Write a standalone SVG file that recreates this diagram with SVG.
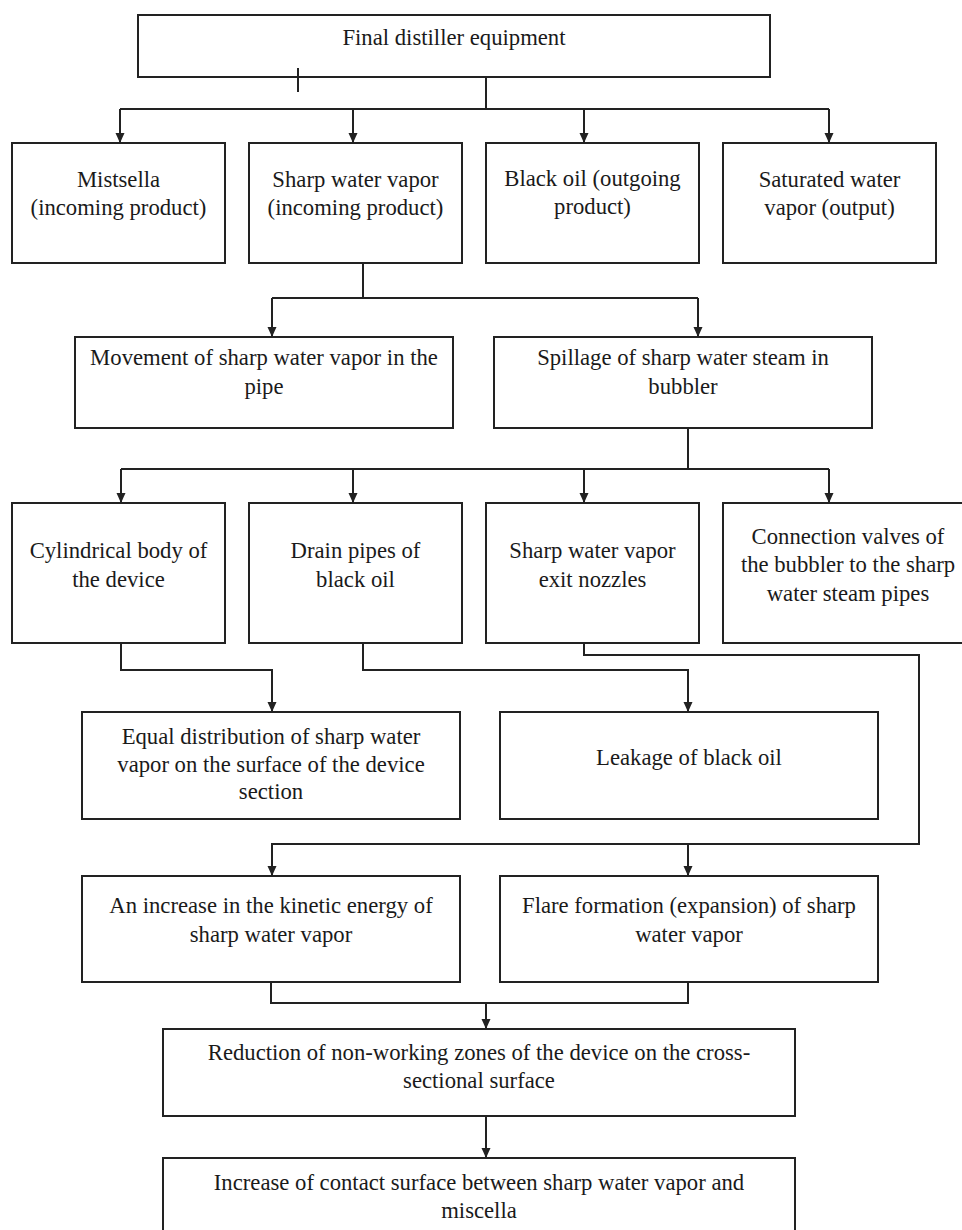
<svg xmlns="http://www.w3.org/2000/svg" width="962" height="1230" viewBox="0 0 962 1230">
<style>
rect.box{fill:#fff;stroke:#222;stroke-width:2}
text{font-family:'Liberation Serif','DejaVu Serif',serif;font-size:22.7px;fill:#1a1a1a;text-anchor:middle}
.c path{fill:none;stroke:#222;stroke-width:2}
</style>
<defs>
<marker id="ah" markerWidth="10" markerHeight="10" refX="10" refY="5" orient="auto" markerUnits="userSpaceOnUse"><path d="M0,0.5 L10,5 L0,9.5 z" fill="#222"/></marker>
</defs>
<rect width="962" height="1230" fill="#fff"/>
<g id="n0"><rect class="box" x="138" y="15" width="632" height="62"/><text x="454" y="45">Final distiller equipment</text></g>
<g id="n1"><rect class="box" x="12" y="143" width="213" height="120"/><text x="118.5" y="187">Mistsella</text><text x="118.5" y="215">(incoming product)</text></g>
<g id="n2"><rect class="box" x="249" y="143" width="213" height="120"/><text x="355.5" y="187">Sharp water vapor</text><text x="355.5" y="215">(incoming product)</text></g>
<g id="n3"><rect class="box" x="486" y="143" width="213" height="120"/><text x="592.5" y="186">Black oil (outgoing</text><text x="592.5" y="214">product)</text></g>
<g id="n4"><rect class="box" x="723" y="143" width="213" height="120"/><text x="829.5" y="187">Saturated water</text><text x="829.5" y="215">vapor (output)</text></g>
<g id="n5"><rect class="box" x="75" y="337" width="378" height="91"/><text x="264" y="365">Movement of sharp water vapor in the</text><text x="264" y="394">pipe</text></g>
<g id="n6"><rect class="box" x="494" y="337" width="378" height="91"/><text x="683" y="365">Spillage of sharp water steam in</text><text x="683" y="394">bubbler</text></g>
<g id="n7"><rect class="box" x="12" y="503" width="213" height="140"/><text x="118.5" y="558">Cylindrical body of</text><text x="118.5" y="587">the device</text></g>
<g id="n8"><rect class="box" x="249" y="503" width="213" height="140"/><text x="355.5" y="558">Drain pipes of</text><text x="355.5" y="587">black oil</text></g>
<g id="n9"><rect class="box" x="486" y="503" width="213" height="140"/><text x="592.5" y="558">Sharp water vapor</text><text x="592.5" y="587">exit nozzles</text></g>
<g id="n10"><rect class="box" x="723" y="503" width="251" height="140"/><text x="848" y="544">Connection valves of</text><text x="848" y="572">the bubbler to the sharp</text><text x="848" y="601">water steam pipes</text></g>
<g id="n11"><rect class="box" x="82" y="712" width="378" height="107"/><text x="271" y="744">Equal distribution of sharp water</text><text x="271" y="772">vapor on the surface of the device</text><text x="271" y="799">section</text></g>
<g id="n12"><rect class="box" x="500" y="712" width="378" height="107"/><text x="689" y="765">Leakage of black oil</text></g>
<g id="n13"><rect class="box" x="82" y="876" width="378" height="106"/><text x="271" y="913">An increase in the kinetic energy of</text><text x="271" y="942">sharp water vapor</text></g>
<g id="n14"><rect class="box" x="500" y="876" width="378" height="106"/><text x="689" y="913">Flare formation (expansion) of sharp</text><text x="689" y="942">water vapor</text></g>
<g id="n15"><rect class="box" x="163" y="1029" width="632" height="87"/><text x="479" y="1060">Reduction of non-working zones of the device on the cross-</text><text x="479" y="1088">sectional surface</text></g>
<g id="n16"><rect class="box" x="163" y="1158" width="632" height="100"/><text x="479" y="1190">Increase of contact surface between sharp water vapor and</text><text x="479" y="1218">miscella</text></g>
<g class="c" id="connectors">
<path d="M486 77 V109 M120 109 H829"/>
<path d="M120 109 V143" marker-end="url(#ah)"/>
<path d="M353 109 V143" marker-end="url(#ah)"/>
<path d="M584 109 V143" marker-end="url(#ah)"/>
<path d="M829 109 V143" marker-end="url(#ah)"/>
<path d="M298 68 V92"/>
<path d="M363 263 V298 M272 298 H698"/>
<path d="M272 298 V337" marker-end="url(#ah)"/>
<path d="M698 298 V337" marker-end="url(#ah)"/>
<path d="M688 428 V469 M121 469 H829"/>
<path d="M121 469 V503" marker-end="url(#ah)"/>
<path d="M353 469 V503" marker-end="url(#ah)"/>
<path d="M584 469 V503" marker-end="url(#ah)"/>
<path d="M829 469 V503" marker-end="url(#ah)"/>
<path d="M121 643 V670 H272 V712" marker-end="url(#ah)"/>
<path d="M363 643 V670 H688 V712" marker-end="url(#ah)"/>
<path d="M584 643 V655 H919 V844 H272 V876" marker-end="url(#ah)"/>
<path d="M688 844 V876" marker-end="url(#ah)"/>
<path d="M271 982 V1003 H688 V982"/>
<path d="M486 1003 V1029" marker-end="url(#ah)"/>
<path d="M486 1116 V1158" marker-end="url(#ah)"/>
</g>
</svg>
